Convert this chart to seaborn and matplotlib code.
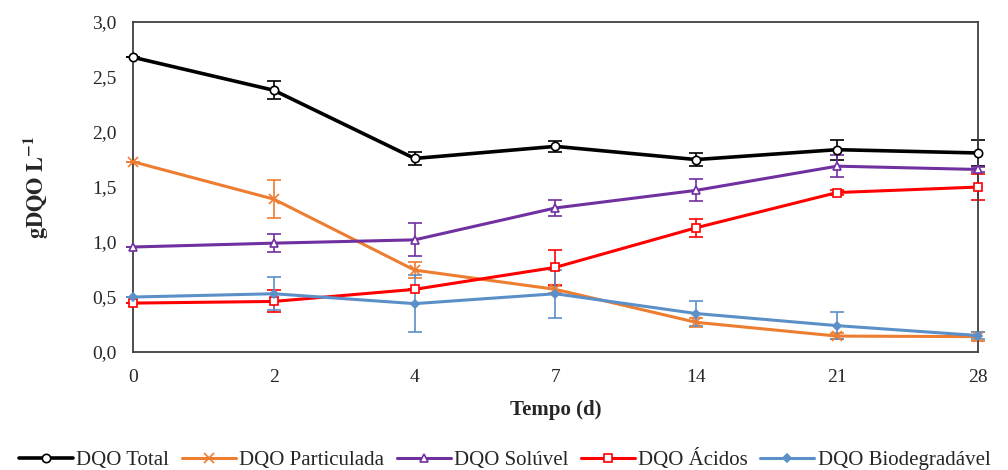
import matplotlib
matplotlib.use("Agg")
import matplotlib.pyplot as plt
import seaborn as sns
import numpy as np
import pandas as pd

days = ["0", "2", "4", "7", "14", "21", "28"]
total = [2.68, 2.38, 1.76, 1.87, 1.75, 1.84, 1.81]
total_err = [0.0, 0.08, 0.06, 0.05, 0.06, 0.09, 0.12]
particulada = [1.73, 1.39, 0.745, 0.57, 0.27, 0.145, 0.14]
particulada_err = [0.0, 0.17, 0.07, 0.03, 0.04, 0.03, 0.04]
soluvel = [0.955, 0.99, 1.02, 1.31, 1.47, 1.69, 1.66]
soluvel_err = [0.0, 0.08, 0.15, 0.07, 0.10, 0.10, 0.02]
acidos = [0.445, 0.46, 0.57, 0.77, 1.13, 1.45, 1.50]
acidos_err = [0.0, 0.10, 0.0, 0.16, 0.08, 0.02, 0.12]
biodeg = [0.50, 0.53, 0.44, 0.53, 0.35, 0.24, 0.15]
biodeg_err = [0.0, 0.15, 0.26, 0.22, 0.11, 0.12, 0.03]
y_ticks = [0.0, 0.5, 1.0, 1.5, 2.0, 2.5, 3.0]

sns.set_style("white")
plt.rcParams['font.family'] = ['Liberation Serif', 'DejaVu Serif']
plt.rcParams['mathtext.fontset'] = 'stix'

fig = plt.figure(figsize=(10.08, 4.70), dpi=100)
ax = fig.add_axes([0.132, 0.251, 0.838, 0.702])

xpos = np.arange(len(days))
series = [
    ("DQO Total", total, total_err, "black", "o", "white", 6, 2.6),
    ("DQO Particulada", particulada, particulada_err, "#ED7D31", "x", "#ED7D31", 7, 2.2),
    ("DQO Solúvel", soluvel, soluvel_err, "#7030A0", "^", "white", 6, 2.2),
    ("DQO Ácidos", acidos, acidos_err, "#FF0000", "s", "white", 6, 2.2),
    ("DQO Biodegradável", biodeg, biodeg_err, "#5B8FC8", "D", "#5B8FC8", 4, 2.2),
]

for name, vals, errs, col, mk, mfc, ms, lw in series:
    df = pd.DataFrame({"x": xpos, "y": vals})
    sns.lineplot(data=df, x="x", y="y", ax=ax, color=col, lw=lw,
                 marker=mk, markersize=ms, markerfacecolor=mfc,
                 markeredgecolor=col, markeredgewidth=1.2, label=name,
                 zorder=3, clip_on=False)
    ax.errorbar(xpos, vals, yerr=errs, fmt="none", ecolor=col, elinewidth=1.2,
                capsize=5, capthick=1.2, zorder=2, clip_on=False)

ax.set_xlim(0, 6)
ax.set_ylim(0, 3.0)
ax.set_xticks(xpos)
ax.set_xticklabels(days, fontsize=14)
ax.set_yticks(y_ticks)
ax.set_yticklabels([f"{t:.1f}".replace(".", ",") for t in y_ticks], fontsize=14)
ax.set_xlabel("Tempo (d)", fontsize=15, fontweight="bold", labelpad=10)
ax.set_ylabel(r"$\mathbf{gDQO\ L^{-1}}$", fontsize=16, labelpad=30)
ax.tick_params(axis="x", direction="out", length=0, pad=12)
ax.tick_params(axis="y", direction="out", length=0, pad=12)
for s in ax.spines.values():
    s.set_visible(True)
    s.set_color("#404040")
    s.set_linewidth(1.3)

ax.legend(loc="upper center", bbox_to_anchor=(0.44, -0.27), ncol=5, frameon=False,
          fontsize=15, handlelength=2.6, handletextpad=0.15, columnspacing=0.6,
          borderaxespad=0)

fig.savefig("out.png", dpi=100)
